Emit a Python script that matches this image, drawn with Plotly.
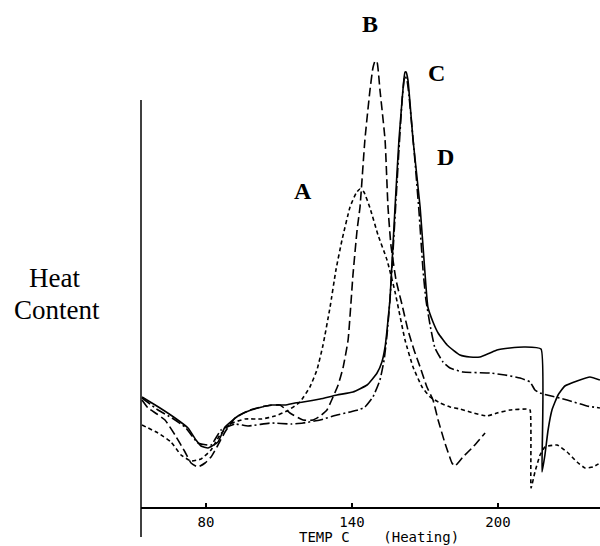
import plotly.graph_objects as go

# ---- data (temperature in deg C, heat content in arbitrary units above baseline) ----
temp_A = [53.7, 60.27, 65.62, 69.73, 73.84, 77.95, 82.06, 85.75, 89.86, 96.03, 103.0, 108.4,
          113.3, 118.6, 122.7, 125.6, 128.1, 131.0, 133.4, 135.9, 139.2, 141.7, 143.3, 144.9,
          147.4, 150.7, 154.4, 157.7, 161.8, 165.1, 168.8, 172.1, 176.2, 180.3, 184.4, 188.5,
          195.5, 199.6, 204.9, 211.9, 213.2, 213.6, 215.2, 217.3, 219.3, 224.3, 228.4, 232.5,
          235.8, 239.1, 241.9]
heat_A = [8.3, 7.5, 6.6, 5.3, 4.7, 4.9, 5.8, 7.3, 8.4, 8.9, 8.9, 9.2,
          9.7, 10.6, 12.1, 13.8, 16.3, 20.1, 23.8, 26.8, 30.1, 31.5, 31.9, 31.6,
          30.0, 27.3, 24.8, 21.6, 16.8, 14.1, 12.1, 11.1, 10.5, 10.1, 9.9, 9.6,
          9.2, 9.5, 9.8, 9.9, 9.8, 2.0, 3.6, 5.3, 6.1, 6.3, 5.6, 4.6,
          4.0, 4.1, 4.5]

temp_B = [53.7, 56.16, 59.86, 63.15, 67.26, 71.37, 73.84, 76.71, 79.59, 82.06, 84.93, 87.81,
          91.92, 98.08, 104.2, 110.4, 114.5, 119.9, 124.0, 126.9, 129.7, 132.2, 134.3, 136.3,
          138.4, 140.4, 142.1, 143.3, 145.3, 147.4, 148.6, 149.5, 150.3, 151.5, 153.6, 154.8,
          156.0, 158.1, 160.6, 163.0, 165.5, 168.0, 170.8, 173.3, 175.4, 178.2, 181.1, 182.3,
          185.6, 189.7, 194.7]
heat_B = [10.8, 10.0, 9.4, 8.8, 7.3, 5.6, 4.5, 4.1, 4.5, 5.1, 6.3, 7.6,
          9.0, 9.8, 10.2, 10.3, 9.5, 8.8, 8.8, 9.2, 9.8, 11.1, 12.3, 14.0,
          16.8, 23.3, 27.8, 30.1, 36.8, 41.8, 44.0, 44.7, 44.6, 41.8, 36.8, 30.1,
          26.3, 22.8, 20.3, 17.8, 15.8, 14.1, 12.1, 10.8, 8.8, 6.5, 4.5, 4.2,
          5.1, 6.1, 7.5]

temp_C = [53.7, 61.09, 67.26, 72.6, 75.89, 77.95, 80.82, 84.93, 87.81, 93.15, 98.5, 106.7,
          112.5, 116.6, 119.9, 126.9, 133.8, 140.4, 146.2, 150.3, 152.3, 153.6, 154.4, 155.6,
          156.4, 157.7, 159.3, 160.6, 161.4, 161.8, 162.2, 163.0, 165.1, 168.0, 170.0, 171.2,
          173.3, 175.4, 179.1, 184.4, 188.5, 192.6, 196.7, 199.6, 204.9, 211.1, 217.7, 218.1,
          219.3, 220.6, 222.2, 224.7, 227.5, 232.5, 237.8, 241.9]
heat_C = [11.1, 10.0, 9.0, 8.0, 6.8, 6.2, 6.0, 6.6, 8.1, 9.2, 9.8, 10.3,
          10.3, 10.5, 10.6, 10.9, 11.3, 11.6, 12.3, 13.5, 14.6, 16.1, 17.8, 20.8,
          24.3, 30.1, 36.8, 40.8, 43.0, 43.6, 43.6, 42.8, 36.8, 30.1, 23.5, 20.1,
          18.6, 17.5, 16.3, 15.3, 15.1, 15.1, 15.5, 15.8, 16.0, 16.1, 15.9, 3.6,
          5.3, 7.8, 9.8, 11.3, 12.2, 12.7, 13.1, 12.8]

temp_D = [53.7, 60.27, 66.03, 71.37, 76.71, 82.06, 86.17, 91.92, 97.26, 106.7, 114.9, 119.9,
          126.9, 133.8, 139.2, 142.5, 145.3, 148.6, 151.5, 153.2, 154.4, 155.6, 156.9, 158.1,
          159.3, 160.6, 161.4, 161.8, 162.6, 163.4, 165.5, 167.5, 169.2, 170.4, 172.1, 174.1,
          177.4, 180.3, 185.6, 196.7, 202.9, 209.1, 213.2, 215.2, 217.3, 220.2, 228.4, 236.6,
          241.9]
heat_D = [11.0, 9.8, 9.0, 8.1, 6.5, 6.3, 7.8, 8.4, 8.2, 8.5, 8.4, 8.5,
          8.8, 9.3, 9.6, 9.8, 10.1, 11.1, 12.8, 14.8, 17.3, 20.8, 25.8, 30.8,
          35.8, 40.8, 42.8, 43.2, 42.8, 41.3, 35.8, 29.8, 23.8, 20.8, 18.3, 16.0,
          14.6, 14.0, 13.6, 13.5, 13.3, 13.0, 12.6, 11.8, 11.5, 11.3, 10.8, 10.2,
          10.0]

tick_vals = [80, 140, 200]
tick_text = ["80", "140", "200"]

curve_labels = ["A", "B", "C", "D"]
label_temps = [119.9, 147.4, 174.9, 178.6]
label_heats = [31.7, 48.4, 43.5, 35.1]

x_range = [53.28, 241.94]
y_range = [-2.9, 50.8]
y_axis_top = 40.8

# ---- figure ----
fig = go.Figure()
styles = [
    (temp_A, heat_A, "4px,3px"),
    (temp_B, heat_B, "9px,4px"),
    (temp_C, heat_C, "solid"),
    (temp_D, heat_D, "10px,3px,2px,3px"),
]
for (tx, hy, dash), name in zip(styles, curve_labels):
    fig.add_trace(go.Scatter(x=tx, y=hy, mode="lines", name=name,
                             line=dict(color="black", width=1.6, dash=dash,
                                       shape="spline", smoothing=0.4)))

for lab, tx, hy in zip(curve_labels, label_temps, label_heats):
    fig.add_annotation(x=tx, y=hy, xref="x", yref="y", text="<b>" + lab + "</b>",
                       showarrow=False, xanchor="center", yanchor="middle",
                       font=dict(family="Liberation Serif", size=24, color="black"))

# vertical axis line (extends below the baseline as in the original)
fig.add_shape(type="line", xref="x domain", yref="y", x0=0, x1=0,
              y0=y_range[0], y1=y_axis_top, line=dict(color="black", width=1.5))

fig.add_annotation(x=-0.1874, y=0.4823, xref="paper", yref="paper", text="Heat",
                   showarrow=False, xanchor="center", yanchor="middle",
                   font=dict(family="Liberation Serif", size=27, color="black"))
fig.add_annotation(x=-0.1830, y=0.4227, xref="paper", yref="paper", text="Content",
                   showarrow=False, xanchor="center", yanchor="middle",
                   font=dict(family="Liberation Serif", size=27, color="black"))
fig.add_annotation(x=(379 - 141) / 459, y=-9 / 537, xref="paper", yref="paper",
                   text="TEMP\u00a0C\u00a0\u00a0\u00a0\u00a0(Heating)",
                   showarrow=False, xanchor="center", yanchor="bottom", borderpad=0,
                   font=dict(family="DejaVu Sans Mono", size=14, color="black"))

fig.update_layout(
    width=600, height=546,
    margin=dict(l=141, r=0, t=0, b=9),
    paper_bgcolor="white", plot_bgcolor="white",
    showlegend=False,
    xaxis=dict(range=x_range, anchor="free", position=29 / 537,
               showline=True, linecolor="black", linewidth=1.5,
               showgrid=False, zeroline=False,
               tickmode="array", tickvals=tick_vals, ticktext=tick_text,
               ticks="inside", ticklen=4, tickwidth=1.5, tickcolor="black",
               ticklabelstandoff=1,
               tickfont=dict(family="DejaVu Sans Mono", size=14, color="black")),
    yaxis=dict(range=y_range, visible=False, showgrid=False, zeroline=False),
)

fig.write_html("out.html", config={"displayModeBar": False})
